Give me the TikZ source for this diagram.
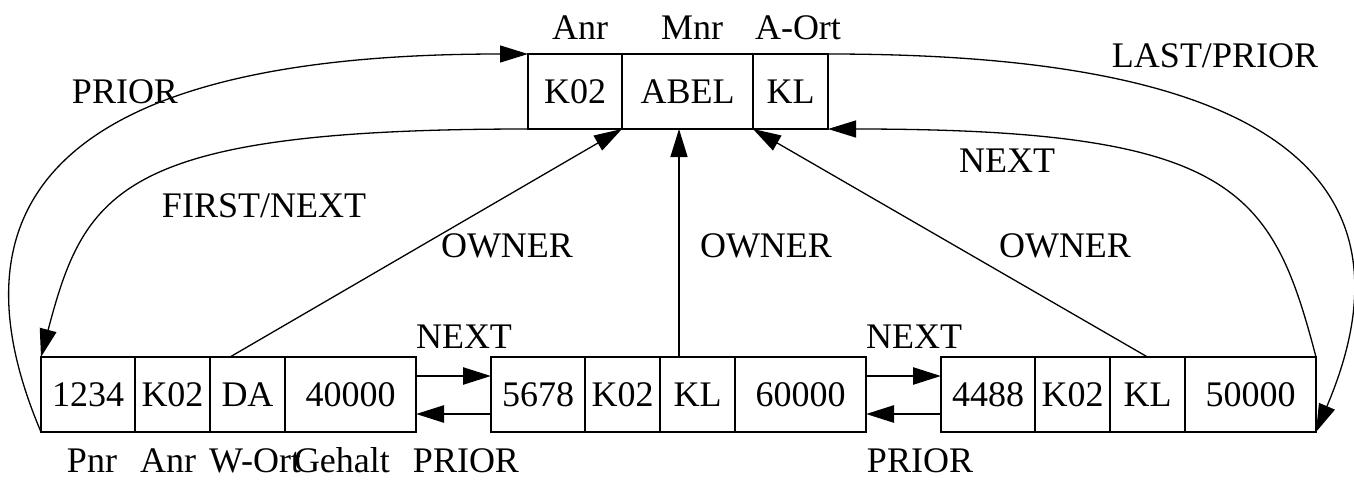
\documentclass[tikz,border=0pt]{standalone}
\usepackage{fontspec}
\setmainfont{Liberation Serif}
\usetikzlibrary{positioning}
\usetikzlibrary{arrows.meta}

\begin{document}
\begin{tikzpicture}
			[x=1pt,y=-1pt,
			 every node/.style={font=\fontsize{36}{43}\selectfont,inner sep=0pt,outer sep=0pt},
			 cell/.style={draw,line width=2.8pt,minimum height=75pt},
			 narrow/.style={cell,minimum width=75pt},
			 medium/.style={cell,minimum width=94pt},
			 wide/.style={cell,minimum width=131pt},
			 lab/.style={anchor=base},
			 connect/.style={line width=1.3pt,-{Triangle[length=28pt,width=17pt]}},
			 link/.style={line width=2.5pt,-{Triangle[length=28pt,width=17pt]}},
		   node distance=0pt]
			\useasboundingbox (0,0) rectangle (1354,479);

			\node (o1) [medium] at (575,91.5) {K02};
			\node (o2) [wide,right=of o1] {ABEL};
			\node (o3) [narrow,right=of o2] {KL};

			\node (a1) [medium] at (88,394.5) {1234};
			\node (a2) [narrow,right=of a1] {K02};
			\node (a3) [narrow,right=of a2] {DA};
			\node (a4) [wide,right=of a3] {40000};

			\node (b1) [medium,right=75pt of a4] {5678};
			\node (b2) [narrow,right=of b1] {K02};
			\node (b3) [narrow,right=of b2] {KL};
			\node (b4) [wide,right=of b3] {60000};

			\node (c1) [medium,right=75pt of b4] {4488};
			\node (c2) [narrow,right=of c1] {K02};
			\node (c3) [narrow,right=of c2] {KL};
			\node (c4) [wide,right=of c3] {50000};

			\node (t1) [lab] at (580,39) {Anr};
			\node (t2) [lab] at (692,39) {Mnr};
			\node (t3) [lab] at (798,39) {A-Ort};
			\node (u1) [lab] at (92,472) {Pnr};
			\node (u2) [lab] at (168,472) {Anr};
			\node (u3) [lab] at (255,472) {W-Ort};
			\node (u4) [lab,anchor=base west] at (294,472) {Gehalt};

			\node (lprior) [lab] at (125,103) {PRIOR};
			\node (lfirst) [lab] at (264,217) {FIRST/NEXT};
			\node (llast) [lab] at (1215,67) {LAST/PRIOR};
			\node (lnext) [lab] at (1007,172) {NEXT};
			\node (w1) [lab] at (507,257) {OWNER};
			\node (w2) [lab] at (766,257) {OWNER};
			\node (w3) [lab] at (1065,257) {OWNER};
			\node (n1) [lab] at (464,348) {NEXT};
			\node (n2) [lab] at (914,348) {NEXT};
			\node (p1) [lab] at (466,472) {PRIOR};
			\node (p2) [lab] at (920,472) {PRIOR};

			\draw [connect] (a1.south west) .. controls +(-141,-332) and +(-278,0) .. (o1.north west);
			\draw [connect] (o1.south west) .. controls +(-408,0) and +(44,-167) .. (a1.north west);
			\draw [connect] (o3.north east) .. controls +(278,0) and +(141,-332) .. (c4.south east);
			\draw [connect] (c4.north east) .. controls +(-44,-167) and +(408,0) .. (o3.south east);

			\coordinate (m) at ([xshift=-18.5pt]b3.north);
			\draw [connect] ([xshift=-17.5pt]a3.north) -- (o1.south east);
			\draw [connect] (m) -- (m |- o2.south);
			\draw [connect] (c3.north) -- (o2.south east);

			\draw [link] ([yshift=18.5pt]a4.east) -- ([yshift=18.5pt]b1.west);
			\draw [link] ([yshift=-19.5pt]b1.west) -- ([yshift=-19.5pt]a4.east);
			\draw [link] ([yshift=18.5pt]b4.east) -- ([yshift=18.5pt]c1.west);
			\draw [link] ([yshift=-19.5pt]c1.west) -- ([yshift=-19.5pt]b4.east);
		\end{tikzpicture}
\end{document}
